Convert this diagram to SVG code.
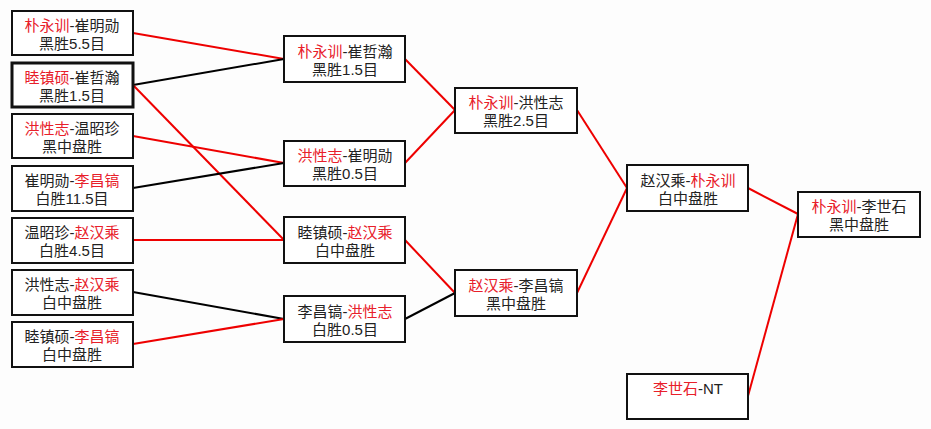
<svg xmlns="http://www.w3.org/2000/svg" width="931" height="429" viewBox="0 0 931 429">
<style>
.bx{fill:#ffffff;stroke:#111;stroke-width:2}
.thick{stroke-width:3}
.t{font-family:"Liberation Sans","Noto Sans CJK SC",sans-serif;font-size:15px;fill:#222;text-anchor:middle}
.r{fill:#e8202a}
.lr{stroke:#ee0000;stroke-width:2;fill:none}
.lb{stroke:#000;stroke-width:2;fill:none}
</style>
<rect x="0" y="0" width="931" height="429" fill="#fdfdfd"/>
<g id="connectors">
<line class="lr" x1="133" y1="33" x2="284" y2="59"/>
<line class="lb" x1="133" y1="85" x2="284" y2="59"/>
<line class="lr" x1="133" y1="85" x2="284" y2="240"/>
<line class="lr" x1="133" y1="136" x2="284" y2="163"/>
<line class="lb" x1="133" y1="188" x2="284" y2="163"/>
<line class="lr" x1="133" y1="240" x2="284" y2="240"/>
<line class="lb" x1="133" y1="292" x2="284" y2="319"/>
<line class="lr" x1="133" y1="344" x2="284" y2="319"/>
<line class="lr" x1="405" y1="59" x2="455" y2="110"/>
<line class="lr" x1="405" y1="163" x2="455" y2="110"/>
<line class="lr" x1="405" y1="240" x2="455" y2="293"/>
<line class="lb" x1="405" y1="319" x2="455" y2="293"/>
<line class="lr" x1="577" y1="110" x2="627" y2="188"/>
<line class="lr" x1="577" y1="293" x2="627" y2="188"/>
<line class="lr" x1="748" y1="188" x2="798" y2="214"/>
<line class="lr" x1="748" y1="396" x2="798" y2="214"/>
</g>
<g id="n1"><rect class="bx" x="12" y="11" width="121" height="44"/><text class="t" x="72" y="31"><tspan class="r">朴永训</tspan>-崔明勋</text><text class="t" x="72" y="49">黑胜5.5目</text></g>
<g id="n2"><rect class="bx thick" x="12" y="63" width="121" height="44"/><text class="t" x="72" y="83"><tspan class="r">睦镇硕</tspan>-崔哲瀚</text><text class="t" x="72" y="101">黑胜1.5目</text></g>
<g id="n3"><rect class="bx" x="12" y="114" width="121" height="44"/><text class="t" x="72" y="134"><tspan class="r">洪性志</tspan>-温昭珍</text><text class="t" x="72" y="152">黑中盘胜</text></g>
<g id="n4"><rect class="bx" x="12" y="166" width="121" height="45"/><text class="t" x="72" y="186">崔明勋-<tspan class="r">李昌镐</tspan></text><text class="t" x="72" y="204">白胜11.5目</text></g>
<g id="n5"><rect class="bx" x="12" y="218" width="121" height="45"/><text class="t" x="72" y="238">温昭珍-<tspan class="r">赵汉乘</tspan></text><text class="t" x="72" y="256">白胜4.5目</text></g>
<g id="n6"><rect class="bx" x="12" y="270" width="121" height="45"/><text class="t" x="72" y="290">洪性志-<tspan class="r">赵汉乘</tspan></text><text class="t" x="72" y="308">白中盘胜</text></g>
<g id="n7"><rect class="bx" x="12" y="322" width="121" height="45"/><text class="t" x="72" y="342">睦镇硕-<tspan class="r">李昌镐</tspan></text><text class="t" x="72" y="360">白中盘胜</text></g>
<g id="nA"><rect class="bx" x="284" y="36" width="121" height="46"/><text class="t" x="345" y="57"><tspan class="r">朴永训</tspan>-崔哲瀚</text><text class="t" x="345" y="75">黑胜1.5目</text></g>
<g id="nB"><rect class="bx" x="284" y="141" width="121" height="45"/><text class="t" x="345" y="161"><tspan class="r">洪性志</tspan>-崔明勋</text><text class="t" x="345" y="179">黑胜0.5目</text></g>
<g id="nC"><rect class="bx" x="284" y="217" width="121" height="46"/><text class="t" x="345" y="238">睦镇硕-<tspan class="r">赵汉乘</tspan></text><text class="t" x="345" y="256">白中盘胜</text></g>
<g id="nD"><rect class="bx" x="284" y="296" width="121" height="46"/><text class="t" x="345" y="317">李昌镐-<tspan class="r">洪性志</tspan></text><text class="t" x="345" y="335">白胜0.5目</text></g>
<g id="nE"><rect class="bx" x="455" y="88" width="122" height="45"/><text class="t" x="516" y="108"><tspan class="r">朴永训</tspan>-洪性志</text><text class="t" x="516" y="126">黑胜2.5目</text></g>
<g id="nF"><rect class="bx" x="455" y="270" width="122" height="46"/><text class="t" x="516" y="291"><tspan class="r">赵汉乘</tspan>-李昌镐</text><text class="t" x="516" y="309">黑中盘胜</text></g>
<g id="nG"><rect class="bx" x="627" y="165" width="121" height="46"/><text class="t" x="688" y="186">赵汉乘-<tspan class="r">朴永训</tspan></text><text class="t" x="688" y="204">白中盘胜</text></g>
<g id="nH"><rect class="bx" x="798" y="192" width="122" height="45"/><text class="t" x="859" y="212"><tspan class="r">朴永训</tspan>-李世石</text><text class="t" x="859" y="230">黑中盘胜</text></g>
<g id="nI"><rect class="bx" x="627" y="374" width="121" height="45"/><text class="t" x="688" y="394"><tspan class="r">李世石</tspan>-NT</text></g>
</svg>
